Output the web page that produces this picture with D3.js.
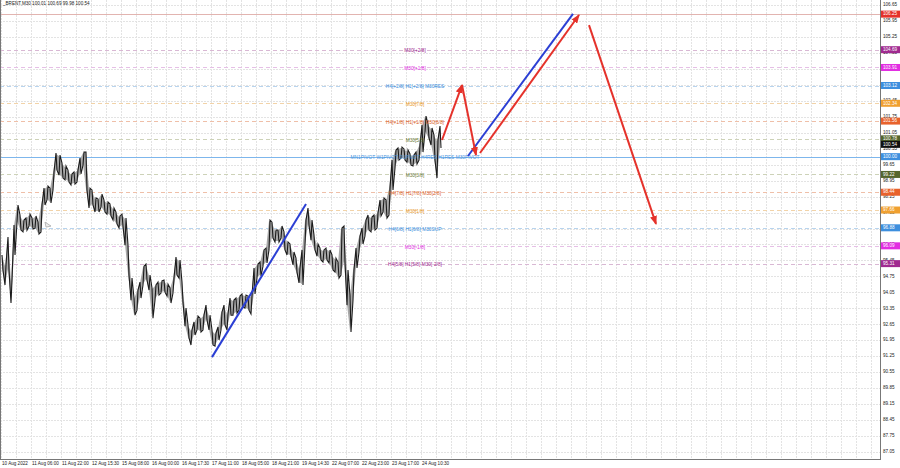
<!DOCTYPE html>
<html lang="en">
<head>
  <title>BRENT M30</title>
  <meta charset="utf-8">
  <script src="https://d3js.org/d3.v7.min.js"></script>
  <style>
    body { margin: 0; background: #fff; }
    svg { display: block; font-family: "Liberation Sans", Arial, sans-serif; }
  </style>
</head>
<body>
<svg id="chart" width="900" height="468"></svg>
<script>

// right axis tick labels
var priceTicks = [106.65, 105.95, 105.25, 104.55, 103.85, 103.15, 102.45, 101.75, 101.05, 100.35,
    99.65, 98.95, 98.25, 97.55, 96.85, 96.15, 95.45, 94.75, 94.05, 93.35, 92.65, 91.95, 91.25,
    90.55, 89.85, 89.15, 88.45, 87.75, 87.05];

// bottom labels, one every 30 bars
var timeLabels = ["10 Aug 2022", "11 Aug 06:00", "11 Aug 22:00", "12 Aug 15:30", "15 Aug 08:00",
    "16 Aug 00:00", "16 Aug 17:30", "17 Aug 11:00", "18 Aug 05:00", "18 Aug 21:00",
    "19 Aug 14:30", "22 Aug 07:00", "22 Aug 23:00", "23 Aug 17:00", "24 Aug 10:30"];

// M30 bars, sampled every 3rd bar (high / low)
var barHigh = [95.69, 95.25, 96.48, 94.59, 97.00, 97.88, 97.44, 97.22, 97.31, 97.48, 97.31, 97.40,
    97.13, 97.88, 98.62, 98.71, 98.62, 99.33, 100.16, 100.07, 99.72, 99.59, 99.41, 99.24, 99.33,
    99.41, 99.94, 100.20, 100.20, 98.62, 98.54, 98.19, 98.14, 98.36, 98.10, 98.01, 97.92, 97.75,
    97.57, 97.40, 97.48, 97.31, 96.12, 94.68, 93.80, 94.15, 94.50, 95.20, 95.29, 94.81, 94.24,
    94.37, 94.50, 94.55, 94.59, 94.41, 94.24, 94.68, 95.60, 95.47, 94.50, 93.36, 92.62, 92.40,
    92.75, 93.01, 92.92, 93.05, 93.49, 93.05, 92.40, 92.27, 92.53, 93.19, 93.49, 93.10, 93.80,
    93.71, 93.80, 93.89, 93.98, 93.93, 93.89, 93.89, 95.12, 95.29, 95.38, 95.91, 95.99, 97.22,
    97.13, 96.78, 96.78, 96.96, 96.70, 96.26, 96.17, 95.82, 95.55, 95.12, 95.91, 97.22, 97.75,
    97.22, 96.56, 96.17, 95.99, 95.91, 95.99, 95.91, 95.69, 95.55, 95.38, 96.87, 96.96, 95.03,
    93.93, 95.03, 95.99, 96.52, 96.87, 97.22, 97.44, 97.35, 97.44, 97.53, 98.10, 98.19, 98.10,
    98.62, 99.85, 100.29, 100.38, 100.42, 100.34, 100.29, 100.12, 100.07, 100.20, 100.51, 101.39,
    101.78, 101.43, 101.26, 100.95, 100.73, 101.34];
var barLow = [95.03, 94.37, 95.03, 93.58, 95.69, 97.13, 96.78, 96.70, 96.78, 96.96, 96.83, 96.87,
    96.61, 96.70, 97.88, 98.10, 97.97, 98.54, 99.41, 99.19, 99.06, 98.98, 98.89, 98.76, 98.80,
    98.89, 99.24, 99.63, 98.54, 97.75, 97.88, 97.57, 97.57, 97.79, 97.57, 97.48, 97.40, 97.22,
    97.05, 96.87, 96.96, 96.12, 94.81, 93.71, 93.05, 93.27, 93.80, 94.37, 94.59, 94.15, 92.92,
    93.71, 93.93, 94.02, 94.06, 93.89, 93.58, 94.02, 94.81, 94.68, 93.62, 92.57, 92.05, 91.74,
    92.18, 92.40, 92.31, 92.40, 92.84, 92.40, 91.74, 91.69, 91.96, 92.40, 92.62, 92.40, 93.05,
    93.05, 93.14, 93.27, 93.41, 93.36, 93.27, 93.10, 93.98, 94.68, 94.77, 95.20, 95.34, 95.91,
    96.43, 96.26, 96.26, 96.43, 95.91, 95.69, 95.64, 95.25, 94.94, 94.46, 94.37, 96.12, 97.00,
    96.34, 95.91, 95.64, 95.47, 95.38, 95.47, 95.34, 95.03, 94.94, 94.68, 94.81, 95.38, 93.49,
    92.31, 93.71, 95.12, 95.82, 96.17, 96.52, 96.78, 96.70, 96.78, 96.87, 97.40, 97.57, 97.31,
    97.44, 98.54, 99.50, 99.85, 99.94, 99.85, 99.76, 99.63, 99.59, 99.68, 99.85, 100.20, 101.08,
    100.82, 100.51, 99.85, 99.06, 100.38];

// Murrey levels drawn on the chart
var levelValues = [106.25, 104.69, 103.91, 103.12, 102.34, 101.56, 100.78, 100.00, 99.22, 98.44,
    97.66, 96.88, 96.09, 95.31];
var levelNames = ["", "M30[+2/8]", "M30[+1/8]", "H4[+2/8] H1[+2/8] M30RES", "M30[7/8]",
    "H4[+1/8] H1[+1/8] M30[6/8]", "M30[5/8]",
    "MN1PIVOT W1PIVOT D1PIVOT H4RES H1RES M30PIVOT", "M30[3/8]",
    "H4[7/8] H1[7/8] M30[2/8]", "M30[1/8]", "H4[6/8] H1[6/8] M30SUP", "M30[-1/8]",
    "H4[5/8] H1[5/8] M30[-2/8]"];
var levelKind = ["top", "p2", "p1", "res", "o", "r", "g", "pivot", "g", "r", "o", "res", "p1", "p2"];
var lastPrice = 100.54;

// old trade arrow [bar, price]
var tradeMark = [43, 97.0];

// projection lines: [bar, price] pairs
var blueLines = [[[210, 91.21], [304, 97.92]], [[466, 100.03], [571, 106.26]]];
var redArrows = [[[440, 100.73], [460, 103.14]], [[460, 103.14], [474, 100.07]],
    [[478, 100.16], [577, 106.21]], [[587, 105.77], [654, 97.05]]];

var kindStyle = {
    top:   {line: "#e2b4b0", box: "#e5322b", text: "#e5322b", dash: null},
    p2:    {line: "#d9b8d4", box: "#a02a90", text: "#a02a90", dash: "4,3"},
    p1:    {line: "#e6bfe6", box: "#e22ee2", text: "#e22ee2", dash: "4,3"},
    res:   {line: "#b8d4ee", box: "#3d8fde", text: "#3d8fde", dash: "4,3"},
    o:     {line: "#f2d3a8", box: "#f0a030", text: "#e89a2c", dash: "4,3"},
    r:     {line: "#efbfa8", box: "#e8622c", text: "#d8602a", dash: "4,3"},
    g:     {line: "#cdd2b8", box: "#55652c", text: "#6b7a3a", dash: "4,3"},
    pivot: {line: "#7db6ec", box: "#3d8fde", text: "#4a94dc", dash: null}
};

var svg = d3.select("#chart");
var plotRight = 880, plotBottom = 459;

var x = d3.scaleLinear().domain([0, 878]).range([2, plotRight]);
var y = d3.scaleLinear().domain([87.05, 106.65]).range([452, 5]);

// grid
var g = svg.append("g");
g.selectAll("line.vg")
    .data(d3.range(0, 878, 15))
    .enter().append("line")
    .attr("x1", function(d) { return x(d) - 0.5; })
    .attr("x2", function(d) { return x(d) - 0.5; })
    .attr("y1", 0).attr("y2", plotBottom)
    .attr("stroke", "#e3e3e3").attr("stroke-dasharray", "2,1");
g.selectAll("line.hg")
    .data(priceTicks)
    .enter().append("line")
    .attr("x1", 0).attr("x2", plotRight)
    .attr("y1", function(d) { return Math.round(y(d)) + 0.5; })
    .attr("y2", function(d) { return Math.round(y(d)) + 0.5; })
    .attr("stroke", "#e3e3e3").attr("stroke-dasharray", "2,1");

// levels
svg.selectAll("line.lvl")
    .data(levelValues)
    .enter().append("line")
    .attr("x1", 0).attr("x2", plotRight)
    .attr("y1", function(d) { return Math.round(y(d)) + 0.5; })
    .attr("y2", function(d) { return Math.round(y(d)) + 0.5; })
    .attr("stroke", function(d, i) { return kindStyle[levelKind[i]].line; })
    .attr("stroke-dasharray", function(d, i) { return kindStyle[levelKind[i]].dash; })
    .attr("stroke-width", 1);

// price bars: soft band + jagged bar path
var bars = barHigh.map(function(h, i) { return {i: i * 3, hi: h, lo: barLow[i]}; });
svg.append("path")
    .datum(bars)
    .attr("d", d3.area()
        .x(function(d) { return x(d.i); })
        .y0(function(d) { return y(d.lo) - 1; })
        .y1(function(d) { return y(d.hi) + 1; }))
    .attr("fill", "#a8a8a8");

var zig = [];
bars.forEach(function(d, k) {
    if (k % 2 == 0) {
        zig.push([x(d.i), y(d.hi)]);
        zig.push([x(d.i) + 1, y(d.lo)]);
    } else {
        zig.push([x(d.i), y(d.lo)]);
        zig.push([x(d.i) + 1, y(d.hi)]);
    }
});
svg.append("path")
    .attr("d", d3.line()(zig))
    .attr("fill", "none")
    .attr("stroke", "#1c1c1c")
    .attr("stroke-width", 1.1);

// small gray trade arrow
var tx = x(tradeMark[0]), ty = y(tradeMark[1]);
svg.append("path")
    .attr("d", d3.line()([[tx, ty - 3], [tx + 6, ty + 1], [tx + 1, ty + 2], [tx, ty - 3]]))
    .attr("fill", "#eee")
    .attr("stroke", "#aaa")
    .attr("stroke-width", 0.8);

// level labels
svg.selectAll("text.lvl")
    .data(levelValues)
    .enter().append("text")
    .attr("x", x(413))
    .attr("y", function(d) { return y(d) + 1.5; })
    .attr("text-anchor", "middle")
    .attr("dominant-baseline", "middle")
    .attr("font-size", 4.8)
    .attr("fill", function(d, i) { return kindStyle[levelKind[i]].text; })
    .text(function(d, i) { return levelNames[i]; });

// projection lines
var defs = svg.append("defs");
defs.append("marker")
    .attr("id", "arr")
    .attr("markerUnits", "userSpaceOnUse")
    .attr("markerWidth", 9).attr("markerHeight", 7)
    .attr("refX", 8).attr("refY", 3.5)
    .attr("orient", "auto")
    .append("path")
    .attr("d", "M0,0 L9,3.5 L0,7 Z")
    .attr("fill", "#e5322b");

var seg = d3.line()
    .x(function(d) { return x(d[0]); })
    .y(function(d) { return y(d[1]); });

svg.selectAll("path.blue")
    .data(blueLines)
    .enter().append("path")
    .attr("d", seg)
    .attr("stroke", "#2b3fd4")
    .attr("stroke-width", 2)
    .attr("fill", "none");

svg.selectAll("path.red")
    .data(redArrows)
    .enter().append("path")
    .attr("d", seg)
    .attr("stroke", "#e5322b")
    .attr("stroke-width", 2)
    .attr("fill", "none")
    .attr("marker-end", "url(#arr)");

// axes frame
svg.append("line").attr("x1", 0.5).attr("x2", 0.5).attr("y1", 0).attr("y2", plotBottom)
    .attr("stroke", "#777");
svg.append("line").attr("x1", plotRight + 0.5).attr("x2", plotRight + 0.5).attr("y1", 0).attr("y2", plotBottom)
    .attr("stroke", "#777");
svg.append("line").attr("x1", 0).attr("x2", plotRight + 1).attr("y1", plotBottom + 0.5).attr("y2", plotBottom + 0.5)
    .attr("stroke", "#777");

// price ticks
svg.selectAll("text.pt")
    .data(priceTicks)
    .enter().append("text")
    .attr("x", plotRight + 3)
    .attr("y", function(d) { return y(d); })
    .attr("dominant-baseline", "middle")
    .attr("font-size", 4.6)
    .attr("fill", "#222")
    .text(function(d) { return d.toFixed(2); });

// level boxes on the price axis
var boxVals = levelValues.concat([lastPrice]);
var boxCol = levelKind.map(function(k) { return kindStyle[k].box; }).concat(["#111"]);
var boxes = svg.selectAll("g.box")
    .data(boxVals)
    .enter().append("g");
boxes.append("rect")
    .attr("x", plotRight + 1)
    .attr("y", function(d) { return y(d) - 3.5; })
    .attr("width", 19).attr("height", 7)
    .attr("fill", function(d, i) { return boxCol[i]; });
boxes.append("text")
    .attr("x", plotRight + 3)
    .attr("y", function(d) { return y(d); })
    .attr("dominant-baseline", "middle")
    .attr("font-size", 4.6)
    .attr("fill", "#fff")
    .text(function(d) { return d.toFixed(2); });

// time labels
svg.selectAll("text.tl")
    .data(timeLabels)
    .enter().append("text")
    .attr("x", function(d, i) { return x(i * 30); })
    .attr("y", plotBottom + 4.5)
    .attr("dominant-baseline", "middle")
    .attr("font-size", 4.6)
    .attr("fill", "#222")
    .text(function(d) { return d; });

// title
svg.append("text")
    .attr("x", 3).attr("y", 4)
    .attr("dominant-baseline", "middle")
    .attr("font-size", 4.6)
    .attr("fill", "#222")
    .text("_BRENT,M30  100.01 100.69 99.98 100.54");

</script>
</body>
</html>
